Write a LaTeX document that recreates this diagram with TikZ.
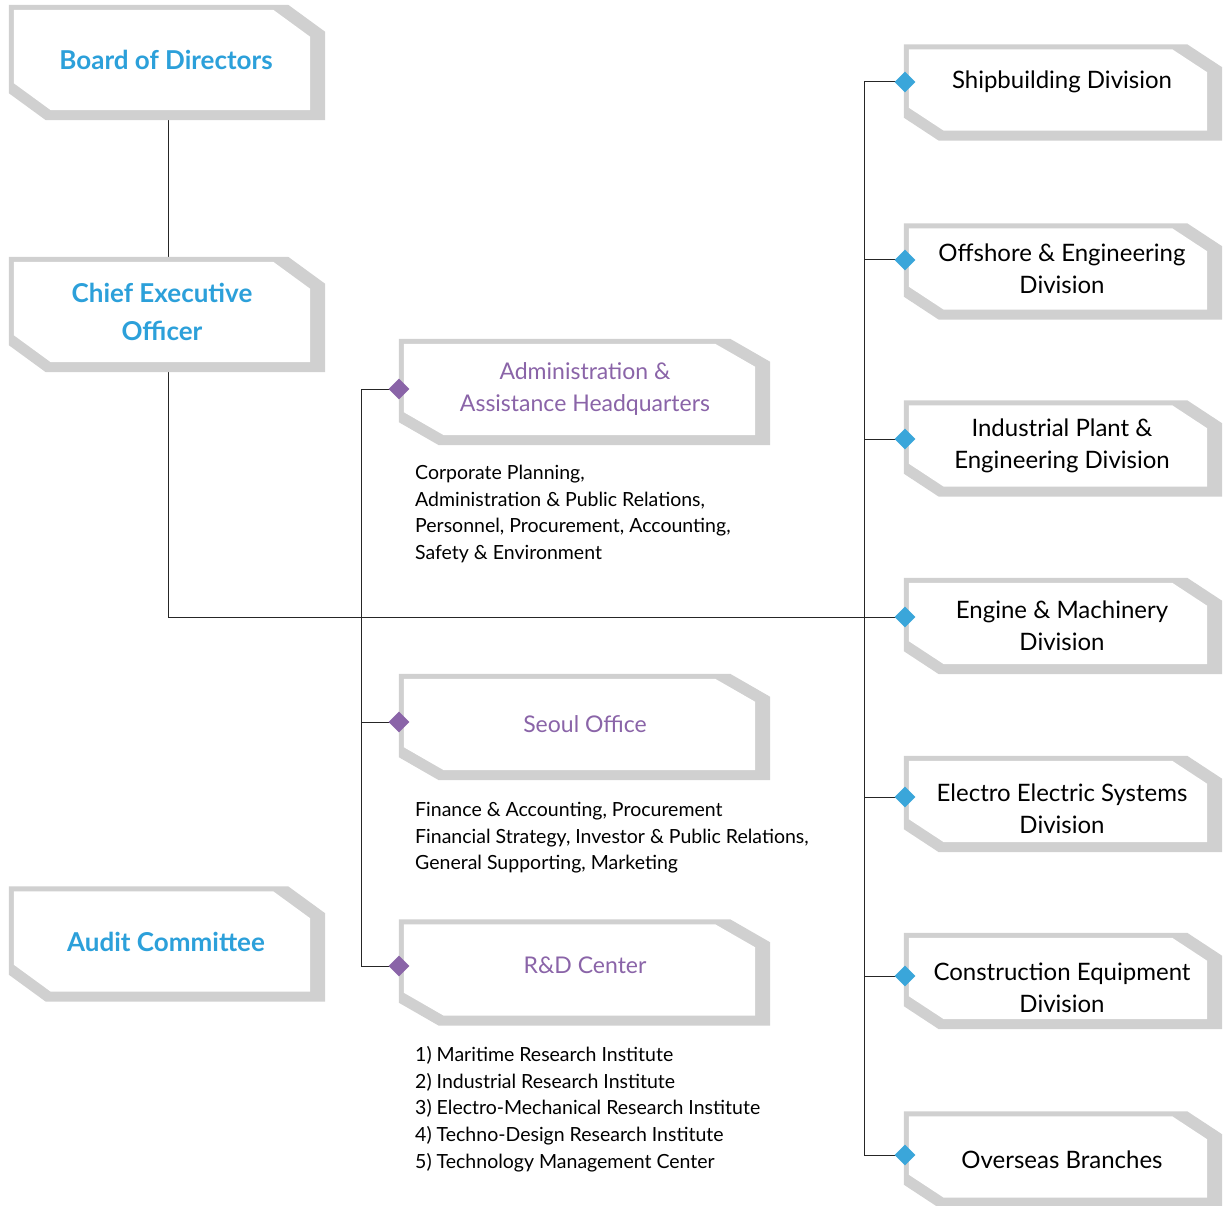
\documentclass[tikz,border=0pt]{standalone}
\usepackage{fontspec}
\setmainfont{Lato}
\usepackage{tikz}
\usetikzlibrary{shapes.geometric,backgrounds}
\definecolor{boxgrey}{RGB}{208,208,208}
\definecolor{headblue}{RGB}{44,160,218}
\definecolor{hqpurple}{RGB}{138,100,168}
\definecolor{diablue}{RGB}{58,166,218}

% grey framed box with cut corners, drawn round a node
% #1 node, #2/#3 corner cut, #4/#5 frame offset from the node
\newcommand{\orgframe}[5]{%
  \fill[boxgrey] ([shift={({-5+(#4)},{-5+(#5)})}]#1.north west)
    -- ([shift={({15-(#2)+(#4)},{-5+(#5)})}]#1.north east)
    -- ([shift={({15+(#4)},{-5+(#3)+(#5)})}]#1.north east)
    -- ([shift={({15+(#4)},{10+(#5)})}]#1.south east)
    -- ([shift={({-5+(#2)+(#4)},{10+(#5)})}]#1.south west)
    -- ([shift={({-5+(#4)},{10-(#3)+(#5)})}]#1.south west) -- cycle;
  \fill[white] ([shift={({#4},{#5})}]#1.north west)
    -- ([shift={({-(#2)+(#4)},{#5})}]#1.north east)
    -- ([shift={({#4},{(#3)+(#5)})}]#1.north east)
    -- ([shift={({#4},{#5})}]#1.south east)
    -- ([shift={({(#2)+(#4)},{#5})}]#1.south west)
    -- ([shift={({#4},{-(#3)+(#5)})}]#1.south west) -- cycle;}

\tikzset{
  orgbox/.style={rectangle, inner sep=0pt, align=center},
  topbox/.style={orgbox, minimum width=296pt, minimum height=100pt,
    text=headblue, font=\fontsize{26}{38}\selectfont\bfseries},
  hqbox/.style={orgbox, minimum width=351pt, minimum height=91pt,
    text=hqpurple, font=\fontsize{23}{32}\selectfont},
  divbox/.style={orgbox, minimum width=298pt, minimum height=81pt,
    font=\fontsize{24}{32}\selectfont},
  tasks/.style={anchor=north west, inner sep=0pt, align=left,
    font=\fontsize{19.5}{26.7}\selectfont},
  hqdia/.style={diamond, fill=hqpurple, minimum size=21pt, inner sep=0pt},
  divdia/.style={diamond, fill=diablue, minimum size=21pt, inner sep=0pt},
  link/.style={line width=1pt, black!85}
}

\begin{document}
\begin{tikzpicture}[x=1pt, y=-1pt]
\useasboundingbox (0,0) rectangle (1223,1206);

\node[topbox] (board) at (166,60) {Board of Directors};
\node[topbox] (ceo) at (162,312) {Chief Executive\\Officer};
\node[topbox] (audit) at (166,941.5) {Audit Committee};

\node[hqbox] (admin) at (585,389.5) {Administration \&\\Assistance Headquarters};
\node[hqbox] (seoul) at (585,724) {Seoul Office};
\node[hqbox] (rnd) at (585,965) {R\&D Center};

\node[tasks] (admintasks) at (415,465) {Corporate Planning,\\Administration \& Public Relations,\\Personnel, Procurement, Accounting,\\Safety \& Environment};
\node[tasks] (seoultasks) at (415,802) {Finance \& Accounting, Procurement\\Financial Strategy, Investor \& Public Relations,\\General Supporting, Marketing};
\node[tasks] (rndtasks) at (415,1046) {1) Maritime Research Institute\\2) Industrial Research Institute\\3) Electro-Mechanical Research Institute\\4) Techno-Design Research Institute\\5) Technology Management Center};

\node[divbox] (ship) at (1062,82) {Shipbuilding Division};
\node[divbox] (offshore) at (1062,269) {Offshore \& Engineering\\Division};
\node[divbox] (plant) at (1062,446) {Industrial Plant \&\\Engineering Division};
\node[divbox] (engine) at (1062,626) {Engine \& Machinery\\Division};
\node[divbox] (electro) at (1062,809) {Electro Electric Systems\\Division};
\node[divbox] (constr) at (1062,988) {Construction Equipment\\Division};
\node[divbox] (overseas) at (1062,1160) {Overseas Branches};

\node[hqdia] (admindia) at (399,389) {};
\node[hqdia] (seouldia) at (399,722) {};
\node[hqdia] (rnddia) at (399,966) {};

\node[divdia] (shipdia) at (905,82) {};
\node[divdia] (offshoredia) at (905,260) {};
\node[divdia] (plantdia) at (905,439) {};
\node[divdia] (enginedia) at (905,617) {};
\node[divdia] (electrodia) at (905,797) {};
\node[divdia] (constrdia) at (905,976) {};
\node[divdia] (overseasdia) at (905,1155) {};

\coordinate (trunk) at (168,0);
\coordinate (hqspine) at (361,0);
\coordinate (divspine) at (864,0);

\begin{scope}[on background layer]
\draw[link] (board.south -| trunk) -- (ceo.north -| trunk);
\draw[link] (ceo.south -| trunk) |- (enginedia.center);
\draw[link] (admindia.center) -- (admindia -| hqspine) -- (rnddia -| hqspine) -- (rnddia.center);
\draw[link] (seouldia -| hqspine) -- (seouldia.center);
\draw[link] (shipdia.center) -- (shipdia -| divspine) -- (overseasdia -| divspine) -- (overseasdia.center);
\foreach \d in {offshoredia,plantdia,electrodia,constrdia}
  \draw[link] (\d -| divspine) -- (\d.center);
\foreach \n/\cx/\cy/\dx/\dy in {board/37/27/-4/0, ceo/37/27/0/0, audit/37/27/-4/0,
    admin/40/23/-5.5/0, seoul/40/23/-5.5/0.5, rnd/40/23/-5.5/5,
    ship/35/23/-4/8, offshore/35/23/-4/0, plant/35/23/-4/0, engine/35/23/-4/-2.5,
    electro/35/23/-4/-7.5, constr/35/23/-4/-9.5, overseas/35/23/-4/-3}
  \orgframe{\n}{\cx}{\cy}{\dx}{\dy};
\end{scope}
\end{tikzpicture}
\end{document}
